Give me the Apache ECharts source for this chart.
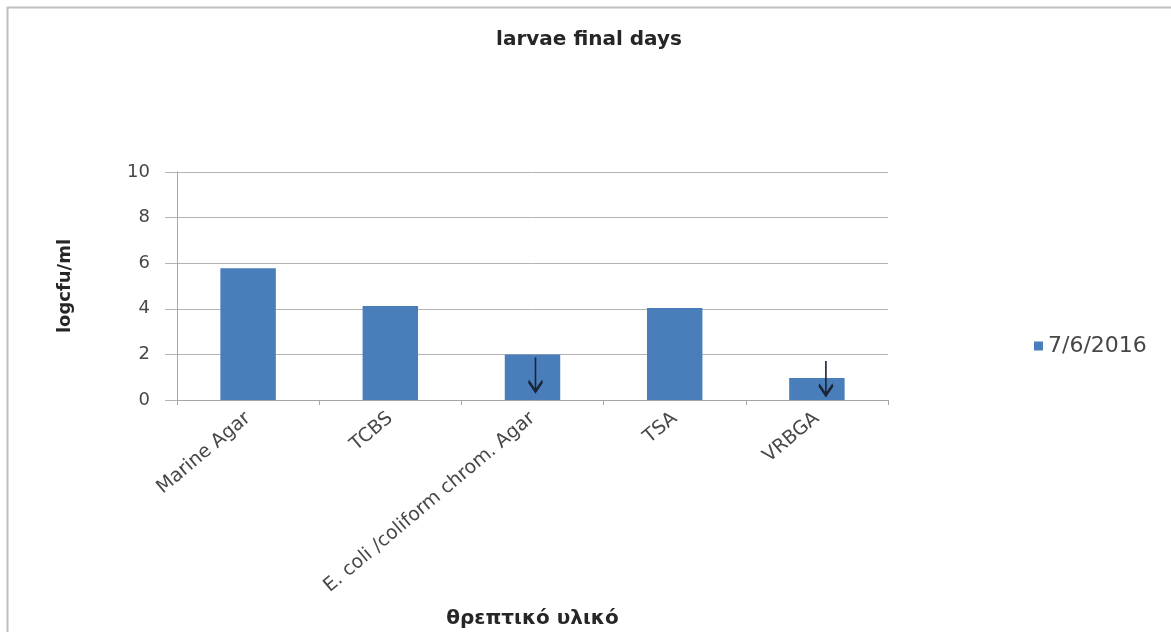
<!DOCTYPE html>
<html>
<head>
<meta charset="utf-8">
<script src="https://cdn.jsdelivr.net/npm/echarts@6/dist/echarts.min.js"></script>
<style>
html,body{margin:0;padding:0;background:#fff;}
#c{width:1171px;height:632px;}
</style>
</head>
<body>
<div id="c"></div>
<script>
const categories = ['Marine Agar', 'TCBS', 'E. coli /coliform chrom. Agar', 'TSA', 'VRBGA'];
const seriesName = '7/6/2016';
const values = [5.78, 4.12, 2.0, 4.04, 0.96];
const yTicks = [0, 2, 4, 6, 8, 10];
const arrowCategories = [2, 4];

const font = '"DejaVu Sans", "Open Sans", sans-serif';
const chart = echarts.init(document.getElementById('c'), null, {renderer: 'canvas'});
const arrowPath = 'path://M5,0 L5,30 M0,21 L5,30 L10,21';

chart.setOption({
  animation: false,
  backgroundColor: '#fff',
  title: {
    text: 'larvae final days',
    left: 584, top: 25, textAlign: 'center',
    textStyle: {fontFamily: font, fontSize: 20, fontWeight: 'bold', color: '#262626'}
  },
  legend: {
    data: [seriesName],
    left: 1029, top: 330,
    itemWidth: 9, itemHeight: 9, itemGap: 6,
    icon: 'rect',
    textStyle: {fontFamily: font, fontSize: 22, color: '#474747'}
  },
  grid: {left: 177, right: 283, top: 172, bottom: 232, containLabel: false, outerBoundsMode: 'none'},
  xAxis: {
    type: 'category',
    data: categories,
    name: 'θρεπτικό υλικό',
    nameLocation: 'middle',
    nameGap: 209,
    nameTextStyle: {fontFamily: font, fontSize: 20, fontWeight: 'bold', color: '#262626'},
    axisLine: {lineStyle: {color: '#a6a6a6'}},
    axisTick: {show: true, length: 5, lineStyle: {color: '#a6a6a6'}},
    axisLabel: {rotate: 40, fontFamily: font, fontSize: 19, color: '#474747', margin: 16}
  },
  yAxis: {
    type: 'value',
    min: 0, max: 10, interval: 2,
    name: 'logcfu/ml',
    nameLocation: 'middle',
    nameGap: 103,
    nameRotate: 90,
    nameTextStyle: {fontFamily: font, fontSize: 18, fontWeight: 'bold', color: '#262626'},
    axisLine: {show: true, lineStyle: {color: '#a6a6a6'}},
    axisTick: {show: true, length: 12, lineStyle: {color: '#b4b4b4'}},
    splitLine: {lineStyle: {color: '#b4b4b4'}},
    axisLabel: {
      fontFamily: font, fontSize: 18, color: '#474747', margin: 27,
      formatter: v => yTicks.includes(v) ? String(v) : ''
    }
  },
  graphic: [{
    type: 'rect', left: 5, top: 5, silent: true,
    shape: {width: 1300, height: 700},
    style: {fill: 'none', stroke: '#c0c0c0', lineWidth: 2}
  }],
  series: [{
    name: seriesName,
    type: 'bar',
    data: values,
    barWidth: '39%',
    itemStyle: {color: '#4a7ebb'},
    markPoint: {
      symbol: arrowPath,
      symbolSize: [14, 34],
      silent: true,
      label: {show: false},
      itemStyle: {color: 'rgba(0,0,0,0)', borderColor: '#1a2438', borderWidth: 2.5},
      data: arrowCategories.map((i, k) => ({
        coord: [i, values[i]],
        symbolOffset: k === 0 ? [3, 20] : [9, 0]
      }))
    }
  }]
});
</script>
</body>
</html>
